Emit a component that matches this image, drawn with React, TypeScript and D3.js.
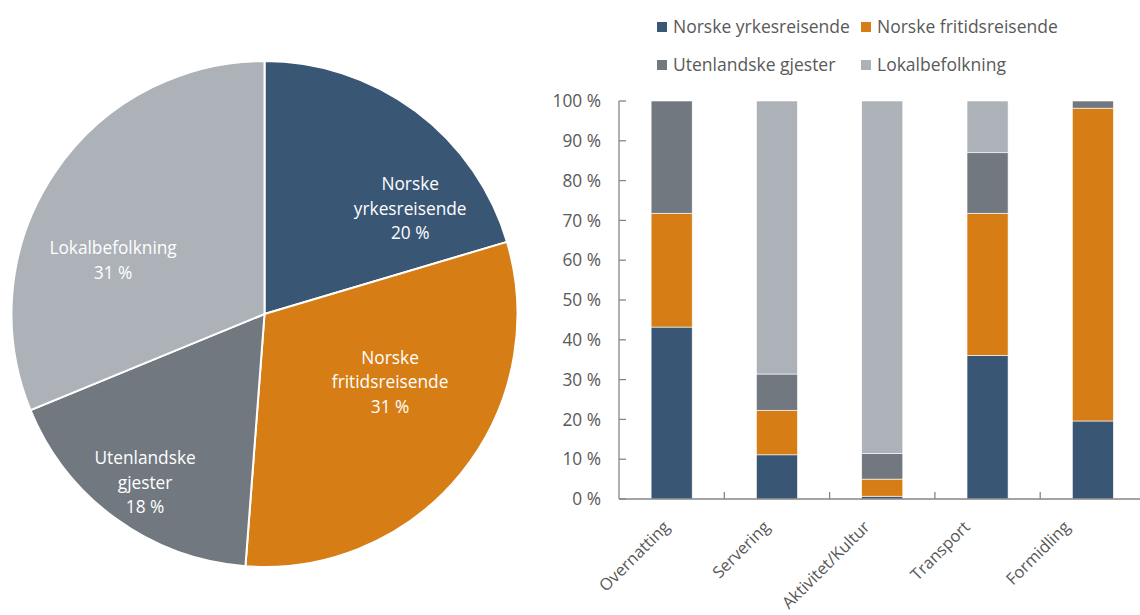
import React from 'react';
import * as d3 from 'd3';

// ---------- data ----------
const pieCategories = ['Norske yrkesreisende', 'Norske fritidsreisende', 'Utenlandske gjester', 'Lokalbefolkning'];
const pieValues = [20.4, 30.8, 17.6, 31.2];
const pieLabelLines = [['Norske', 'yrkesreisende'], ['Norske', 'fritidsreisende'], ['Utenlandske', 'gjester'], ['Lokalbefolkning']];
const pieLabelTexts = ['20 %', '31 %', '18 %', '31 %'];

const barCategories = ['Overnatting', 'Servering', 'Aktivitet/Kultur', 'Transport', 'Formidling'];
const yrkesValues = [43.2, 11.1, 0.7, 36.1, 19.6];
const fritidsValues = [28.6, 11.2, 4.3, 35.7, 78.6];
const utenlandskeValues = [28.2, 9.1, 6.4, 15.2, 1.8];
const lokalValues = [0, 68.6, 88.6, 13.0, 0];
const yTicks = [0, 10, 20, 30, 40, 50, 60, 70, 80, 90, 100];

// ---------- styles / layout ----------
const COLORS = ['#3A5675', '#D67D16', '#72787F', '#ADB2B8'];
const FONT = "'Open Sans', sans-serif";
const TEXT_COLOR = '#595959';
const AXIS_COLOR = '#868686';
// label placement (polar: angle from top clockwise in degrees, radius fraction)
const PIE_LABEL_POS = [[54.2, 0.71], [118.5, 0.565], [215.3, 0.817], [289.5, 0.635]];

export default function App() {
  const W = 1140, H = 615;

  // pie
  const cx = 264.5, cy = 314, R = 253;
  const pie = d3.pie<number>().sort(null).value(d => d);
  const arcs = pie(pieValues);
  const arcGen = d3.arc<d3.PieArcDatum<number>>().innerRadius(0).outerRadius(R);

  // bars
  const left = 619, right = 1145.5, top = 101, bottom = 499;
  const x = d3.scaleBand<string>().domain(barCategories).range([left, right]).paddingInner(0.61).paddingOuter(0.305);
  const xb = d3.scaleBand<string>().domain(barCategories).range([left, right]);
  const y = d3.scaleLinear().domain([0, 100]).range([bottom, top]);
  const rows = barCategories.map((c, i) => ({
    cat: c,
    s0: yrkesValues[i], s1: fritidsValues[i], s2: utenlandskeValues[i], s3: lokalValues[i],
  }));
  const stack = d3.stack<any>().keys(['s0', 's1', 's2', 's3']);
  const series = stack(rows);

  const legendItems = [
    { name: pieCategories[0], color: COLORS[0], x: 657, y: 22 },
    { name: pieCategories[1], color: COLORS[1], x: 861, y: 22 },
    { name: pieCategories[2], color: COLORS[2], x: 657, y: 60 },
    { name: pieCategories[3], color: COLORS[3], x: 861, y: 60 },
  ];

  return (
    <svg width={W} height={H} style={{ position: 'absolute', left: 0, top: 0, background: '#fff' }} fontFamily={FONT}>
      <rect width={W} height={H} fill="#fff" />
      {/* Pie */}
      <g transform={`translate(${cx},${cy})`}>
        {arcs.map((a, i) => (
          <path key={i} d={arcGen(a) as string} fill={COLORS[i]} stroke="#fff" strokeWidth={2} />
        ))}
        {arcs.map((a, i) => {
          const [ang, rf] = PIE_LABEL_POS[i];
          const rad = (ang * Math.PI) / 180;
          const lx = Math.sin(rad) * rf * R;
          const ly = -Math.cos(rad) * rf * R;
          const lines = [...pieLabelLines[i], pieLabelTexts[i]];
          const n = lines.length;
          return (
            <text key={i} fill="#fff" fontSize={17.3} textAnchor="middle">
              {lines.map((l, j) => (
                <tspan key={j} x={lx} y={ly + (j - (n - 1) / 2) * 24.5 + 6}>{l}</tspan>
              ))}
            </text>
          );
        })}
      </g>

      {/* Legend */}
      {legendItems.map((l, i) => (
        <g key={i}>
          <rect x={l.x} y={l.y} width={10} height={10} fill={l.color} />
          <text x={l.x + 16} y={l.y + 10.5} fontSize={17.5} fill={TEXT_COLOR}>{l.name}</text>
        </g>
      ))}

      {/* Bars */}
      {series.map((s, si) => (
        <g key={si}>
          {s.map((d, di) => (
            d[1] - d[0] > 0 ? (
              <rect key={di} x={x(barCategories[di])} y={y(d[1])} width={x.bandwidth()}
                height={y(d[0]) - y(d[1])} fill={COLORS[si]} stroke="#fff" strokeWidth={0.6} />
            ) : null
          ))}
        </g>
      ))}

      {/* Y axis */}
      <line x1={left} x2={left} y1={top} y2={bottom} stroke={AXIS_COLOR} strokeWidth={1.3} />
      {yTicks.map(t => (
        <g key={t}>
          <line x1={left} x2={left + 7} y1={y(t)} y2={y(t)} stroke={AXIS_COLOR} strokeWidth={1.3} />
          <text x={601} y={y(t)} dy="0.36em" textAnchor="end" fontSize={17.3} fill={TEXT_COLOR}>{`${t} %`}</text>
        </g>
      ))}
      {/* X axis */}
      <line x1={left} x2={right} y1={bottom} y2={bottom} stroke={AXIS_COLOR} strokeWidth={1.3} />
      {barCategories.map((c, i) => (
        i > 0 ? <line key={c} x1={xb(c)} x2={xb(c)} y1={bottom} y2={bottom - 7} stroke={AXIS_COLOR} strokeWidth={1.3} /> : null
      ))}
      {barCategories.map((c, i) => {
        const lx = (xb(c) as number) + xb.bandwidth() / 2 - i * 5.2 - 1;
        const ly = 528;
        return (
          <text key={c} transform={`translate(${lx},${ly}) rotate(-45)`} textAnchor="end" fontSize={16.5} fill={TEXT_COLOR}>{c}</text>
        );
      })}
    </svg>
  );
}
